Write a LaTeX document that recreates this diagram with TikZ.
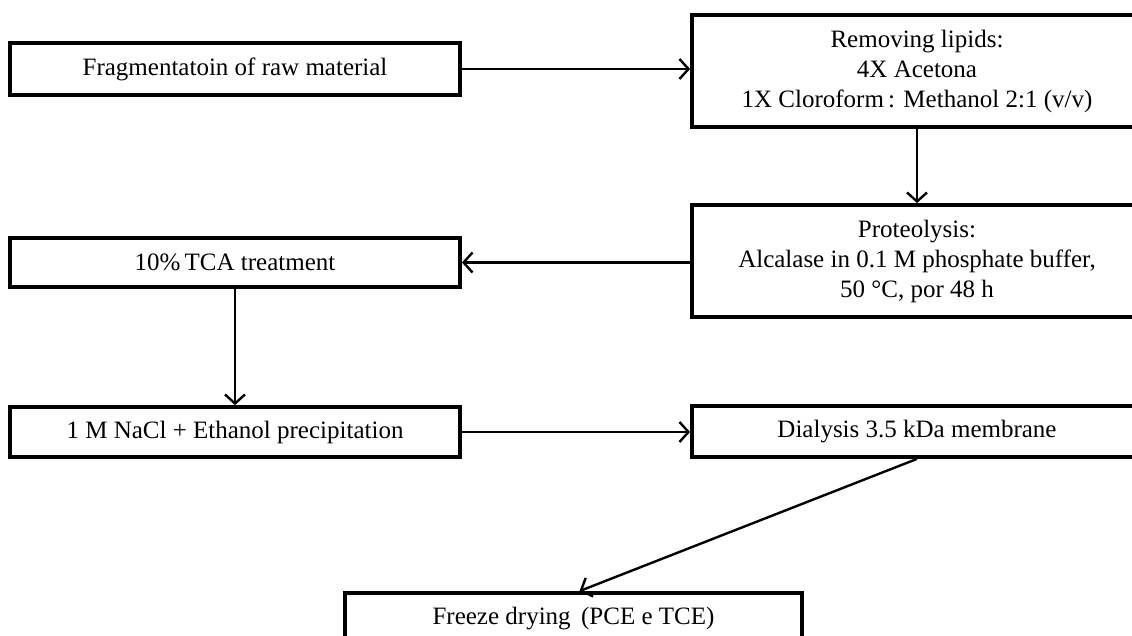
\documentclass[tikz,border=0pt]{standalone}
\usepackage{fontspec}
\setmainfont{Liberation Serif}
\usetikzlibrary{arrows.meta}
\begin{document}
\begin{tikzpicture}[x=1pt,y=-1pt,
  stepbox/.style={draw=black,line width=3.8pt,fill=white,inner sep=0pt,align=center,
    font=\fontsize{25}{30}\selectfont,minimum width=450pt},
  flow/.style={line width=2.4pt,-{Straight Barb[length=9pt,width=20pt,line width=2.4pt]}}]
\useasboundingbox (0,0) rectangle (1132,635);
\clip (0,0) rectangle (1132,635);
\node[stepbox,minimum height=52pt] (b1) at (235,69) {Fragmentatoin of raw material};
\node[stepbox,minimum height=112pt] (b2) at (917,71) {Removing lipids:\\4X Acetona\\1X Cloroform\,: Methanol 2:1 (v/v)};
\node[stepbox,minimum height=112pt] (b3) at (917,261) {Proteolysis:\\Alcalase in 0.1 M phosphate buffer,\\50 °C, por 48 h};
\node[stepbox,minimum height=49pt] (b4) at (235,262.5) {10\%\,TCA treatment};
\node[stepbox,minimum height=50pt] (b5) at (235,432) {1 M NaCl + Ethanol precipitation};
\node[stepbox,minimum height=51pt] (b6) at (917,431.5) {Dialysis 3.5 kDa membrane};
\node[stepbox,minimum height=52pt,minimum width=457pt] (b7) at (573.5,619) {Freeze drying\, (PCE e TCE)};
\draw[flow] (b1.east) -- (b2.west |- b1.east);
\draw[flow] (b2.south) -- (b3.north);
\draw[flow] (b3.west |- b4.east) -- (b4.east);
\draw[flow] (b4.south) -- (b5.north);
\draw[flow] (b5.east) -- (b6.west |- b5.east);
\draw[flow] (b6.south) -- ([xshift=6pt]b7.north);
\end{tikzpicture}
\end{document}
